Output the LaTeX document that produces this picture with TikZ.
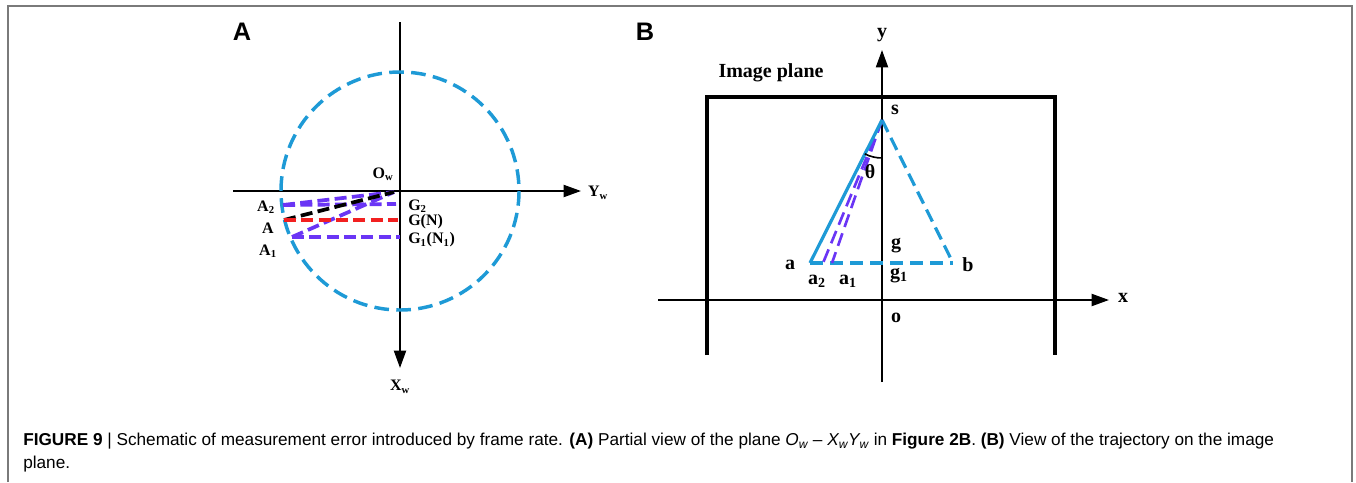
\documentclass[tikz,border=0pt]{standalone}
\usepackage{fontspec}
\setmainfont{Liberation Serif}
\setsansfont{Liberation Sans}
\usetikzlibrary{arrows.meta}
\definecolor{cblue}{HTML}{1E9AD6}
\definecolor{cviolet}{HTML}{6A35F5}
\definecolor{cred}{HTML}{F22020}
\definecolor{cgray}{HTML}{7A7A7A}
\begin{document}
\begin{tikzpicture}[x=0.75pt,y=-0.75pt,
  axis/.style={line width=1.5pt,-{Triangle[length=13pt,width=9pt]}},
  dsh/.style={line width=2.8pt,dash pattern=on 9pt off 4pt},
  dshB/.style={line width=2.4pt,dash pattern=on 10pt off 5pt},
  circ/.style={line width=2.6pt,dash pattern=on 11pt off 5.5pt},
  lblA/.style={font=\fontsize{12}{14}\selectfont\bfseries,inner sep=0pt},
  lblB/.style={font=\fontsize{15}{17}\selectfont\bfseries,inner sep=0pt},
  panel/.style={font=\fontsize{19}{21}\sffamily\bfseries,inner sep=0pt}]
\useasboundingbox (0,0) rectangle (1356,482);
% outer border
\draw[cgray,line width=1.1pt] (8,482) -- (8,6) -- (1352,6) -- (1352,482);
% ---------- panel A ----------
\node[panel] (pA) at (242,32) {A};
\coordinate (Ow) at (400,191);
\coordinate (hl) at (233,191);
\coordinate (hr) at (581,191);
\coordinate (vt) at (400,22);
\coordinate (vb) at (400,368);
\draw[axis] (hl) -- (hr);
\draw[axis] (vt) -- (vb);
\draw[cblue,circ] (Ow) circle[radius=119];
\coordinate (A2) at (283,205);
\coordinate (A) at (284,220);
\coordinate (A1) at (292,237);
\coordinate (G2) at (396,204);
\coordinate (G) at (398,220);
\coordinate (G1) at (400,237);
\coordinate (O1) at (394,192);
\draw[cviolet,dsh] (A2) -- (O1);
\draw[cviolet,dsh] (A2) -- (G2);
\draw[cviolet,dsh] (A1) -- (O1);
\draw[cviolet,dsh] (A1) -- (G1);
\draw[black,dsh] (A) -- (O1);
\draw[cred,dsh] (A) -- (G);
\node[lblA] (lOw) at (383,174) {O\textsubscript{w}};
\node[lblA] (lYw) at (598,193) {Y\textsubscript{w}};
\node[lblA] (lXw) at (400,387) {X\textsubscript{w}};
\node[lblA] (lA2) at (266,207) {A\textsubscript{2}};
\node[lblA] (lA) at (268,228) {A};
\node[lblA] (lA1) at (268,251) {A\textsubscript{1}};
\node[lblA,anchor=west] (lG2) at (408,206) {G\textsubscript{2}};
\node[lblA,anchor=west] (lG) at (408,222) {G(N)};
\node[lblA,anchor=west] (lG1) at (408,240) {G\textsubscript{1}(N\textsubscript{1})};
% ---------- panel B ----------
\node[panel] (pB) at (645,32) {B};
\draw[line width=3.2pt] (707,355) -- (707,97) -- (1055,97) -- (1055,355);
\coordinate (yb) at (882,382);
\coordinate (yt) at (882,50);
\coordinate (xl) at (658,300);
\coordinate (xr) at (1109,300);
\draw[axis] (yb) -- (yt);
\draw[axis] (xl) -- (xr);
\coordinate (s) at (882,120);
\coordinate (a) at (810,263);
\coordinate (b) at (953,263);
\coordinate (a2) at (823,263);
\coordinate (a1) at (832,263);
\draw[cblue,dshB] (a) -- (b);
\draw[cblue,dshB] (s) -- (b);
\draw[cviolet,dshB,line width=2pt] (s) -- (a2);
\draw[cviolet,dshB,line width=2pt] (s) -- (a1);
\draw[cblue,line width=2.4pt] (s) -- (a);
\draw[line width=1.2pt] (s) ++(90:38) arc[start angle=90,end angle=117,radius=38];
\node[lblB] (lim) at (771,73) {Image plane};
\node[lblB] (ly) at (882,35) {y};
\node[lblB] (lx) at (1123,298) {x};
\node[lblB] (lo) at (896,318) {o};
\node[lblB] (ls) at (895,110) {s};
\node[lblB] (la) at (790,265) {a};
\node[lblB] (lb) at (968,265) {b};
\node[lblB] (la2) at (817,281) {a\textsubscript{2}};
\node[lblB] (la1) at (848,281) {a\textsubscript{1}};
\node[lblB] (lg) at (896,246) {g};
\node[lblB] (lg1) at (899,276) {g\textsubscript{1}};
\node[lblB] (lth) at (870,172) {θ};
% ---------- caption ----------
\node[anchor=north west,align=left,inner sep=0pt,
  font=\fontsize{12.9}{17.3}\sffamily] (cap) at (23,433)
 {\textbf{FIGURE 9} | Schematic of measurement error introduced by frame rate. \textbf{(A)} Partial view of the plane \textit{O\textsubscript{w}} – \textit{X\textsubscript{w}Y\textsubscript{w}} in \textbf{Figure 2B}. \textbf{(B)} View of the trajectory on the image\\plane.};
\end{tikzpicture}
\end{document}
